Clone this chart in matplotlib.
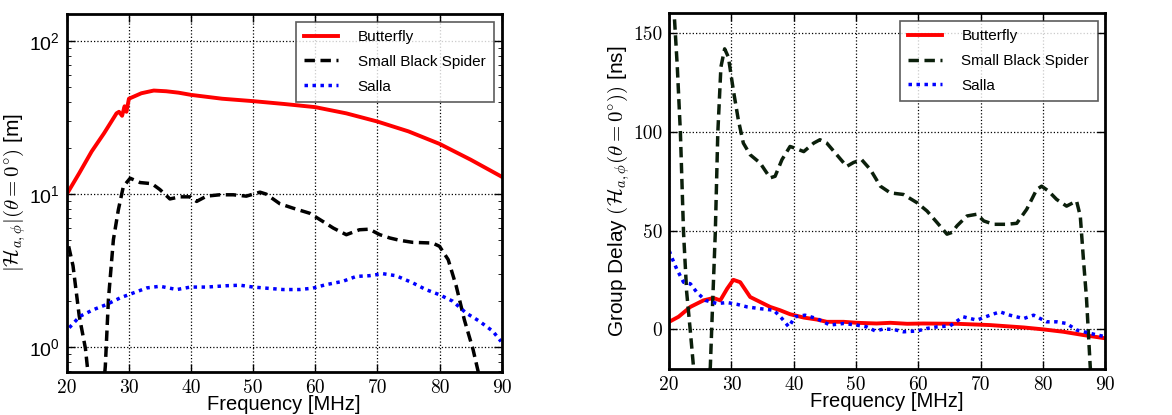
import matplotlib
matplotlib.use("Agg")
import matplotlib.pyplot as plt
from matplotlib.ticker import FuncFormatter, LogLocator, NullFormatter

plt.rcParams['mathtext.fontset'] = 'cm'
plt.rcParams['font.family'] = ['Liberation Sans', 'DejaVu Sans']

# ---- left panel: |H| (log scale) ----
bf_f = [20, 22, 24, 26, 28, 28.4, 28.9, 29.3, 29.6, 30, 32, 34, 36, 38, 40, 45, 50, 55, 60,
        65, 70, 75, 80, 85, 90]
bf_h = [10, 13.7, 19, 25, 33.7, 34.5, 32.5, 37.5, 34.5, 42, 45.6, 47.5, 47, 46, 44.5, 42, 40.5,
        38.8, 37, 33.7, 29.8, 25.7, 21.3, 16.8, 13]

sp_f = [20.3, 21, 22, 23, 23.3, 23.6, 26.0, 26.2, 26.7, 27.5, 28.3, 29.1, 30.2, 31.8, 33.7, 35,
        36.6, 38.2, 39.8, 40.9, 42.5, 44.6, 46.8, 48.9, 51.1, 52.1, 54.3, 56.4, 59.1, 61.3,
        62.9, 65, 67.1, 68.7, 70.4, 72, 73.6, 75.7, 78.9, 80, 81.4, 82.7, 84, 85.4, 86.2, 86.5]
sp_h = [4.56, 3.4, 1.6, 0.98, 0.75, 0.6, 0.6, 0.75, 2.05, 5.04, 7.9, 11.2, 12.7, 11.9, 11.7, 10.7,
        9.3, 9.6, 9.6, 8.96, 9.7, 9.9, 9.9, 9.7, 10.3, 10.0, 8.65, 8.1, 7.5, 6.6,
        6.0, 5.43, 5.85, 5.9, 5.43, 5.17, 4.99, 4.84, 4.79, 4.56, 3.73, 2.5, 1.51, 0.966, 0.7, 0.6]

sa_f = [20.4, 22.1, 24.3, 26.4, 28.6, 30.7, 32.9, 35, 37.7, 39.9, 42.5, 45.7, 47.9, 50, 52.1,
        54.8, 57.5, 59.6, 61.7, 64.4, 66.6, 68.7, 70.9, 73, 75.7, 77.8, 80, 82.1, 84.3, 86.4,
        88.6, 89.9]
sa_h = [1.34, 1.59, 1.76, 1.9, 2.1, 2.26, 2.44, 2.5, 2.38, 2.47, 2.47, 2.52, 2.54, 2.47, 2.43,
        2.38, 2.38, 2.43, 2.56, 2.69, 2.9, 2.93, 3.02, 2.93, 2.63, 2.38, 2.2, 2.0, 1.67, 1.48,
        1.27, 1.09]

# ---- right panel: group delay [ns] ----
bf_gf = [20, 21.5, 23.4, 25.5, 27.1, 28.2, 29.3, 30.3, 31.4, 33, 34.6, 36.2, 37.8, 39.4, 41.6,
         43.7, 45.3, 48, 50.1, 53.3, 55.5, 58.2, 60.8, 66.2, 71.5, 76.9, 80.1, 83.3, 86.5, 90]
bf_gd = [3.85, 6.4, 11.4, 14.7, 15.9, 14.7, 20.6, 25.1, 23.9, 16.4, 13.9, 11.4, 9.7, 7.7, 6.0,
         5.0, 3.85, 3.85, 3.35, 3.0, 3.35, 2.85, 3.0, 2.85, 2.2, 1.0, 0, -1.2, -2.85, -4.5]

sp_gf = [20.7, 21.3, 21.8, 22.3, 22.8, 23.4, 23.9, 24.1, 26.4, 26.6, 27.0, 27.4, 27.8, 28.3,
         28.9, 29.5, 30.3, 31.1, 31.9, 33, 34.6, 36.2, 37, 38.1, 39.4, 40.2, 41.6, 43.2, 44.2,
         45.3, 46.9, 48.5, 49.6, 50.9, 52.3, 53.9, 55.5, 57.6, 59.8, 61.4, 63, 64.6, 65.4, 66.2,
         67.8, 69.4, 70.5, 72.1, 74.2, 75.8, 77.4, 79, 79.8, 80.9, 82.2, 83.8, 85.4, 86, 86.5,
         87, 87.6, 87.8]
sp_gd = [165, 132.8, 99.3, 49, 19, -1.2, -19, -25, -25, -19, 15.6, 49, 99.3, 132.8,
         142, 137.8, 121, 106, 94.3, 88.4, 84.2, 76.7, 77.5, 85.9, 92.6, 91.7, 90, 94.3, 96,
         94.3, 88.4, 82.5, 84.5, 85.9, 80.9, 72.5, 69.1, 68.3, 64.1, 59.9, 54.1, 48.2, 49.1, 52.4,
         57.4, 58.3, 54.9, 53.2, 53.2, 53.7, 60.8, 70.8, 72.5, 70, 65.8, 62.4, 65, 57.4, 35.7,
         15.6, -19, -25]

sa_gf = [20, 20.4, 21.2, 22.3, 23.4, 24.4, 25.8, 27.7, 29.3, 30.9, 32.5, 34.6, 36.8, 38.1,
         39.2, 40.2, 41.8, 43.7, 45.8, 48, 50.1, 51.7, 53.1, 54.4, 56, 57.6, 59.8, 61.4, 63,
         65.1, 67.2, 69.4, 71.5, 73.1, 74.7, 76.9, 78.5, 80.6, 82.2, 83.8, 85.4, 87.6, 90]
sa_gd = [39.8, 36.5, 30.6, 23.9, 23.1, 18.9, 14.7, 13.1, 13.6, 12.7, 11.4, 10.5, 9.7, 5.5,
         1.3, 6.4, 7.2, 5.5, 2.2, 3.0, 2.2, 1.3, -0.8, 0.2, 0, -1.2, -0.8, 0.5, 1.3,
         1.8, 6.4, 4.7, 7.2, 8.9, 7.2, 5.5, 7.2, 3.85, 3.85, 3.0, -0.3, -2.0, -3.7]

labels = ["Butterfly", "Small Black Spider", "Salla"]
xticks = [20, 30, 40, 50, 60, 70, 80, 90]

fig = plt.figure(figsize=(11.72, 4.15), dpi=100)
ax1 = fig.add_axes([0.057, 0.104, 0.371, 0.862])
ax2 = fig.add_axes([0.571, 0.111, 0.372, 0.857])

plainfmt = FuncFormatter(lambda v, p: "%d" % v)
dash = (0, (3, 1.6))
dots = (0, (1, 1.3))

# left
ax1.plot(bf_f, bf_h, color='red', lw=2.8, label=labels[0])
ax1.plot(sp_f, sp_h, color='black', lw=2.5, ls=dash, label=labels[1])
ax1.plot(sa_f, sa_h, color='blue', lw=2.5, ls=dots, label=labels[2])
ax1.set_yscale('log')
ax1.set_xlim(20, 90)
ax1.set_ylim(0.69, 150)
ax1.yaxis.set_major_locator(LogLocator(base=10))
ax1.yaxis.set_minor_formatter(NullFormatter())
ax1.set_ylabel(r"$|\mathcal{H}_{a,\phi}|(\theta=0^{\circ})$ [m]", fontsize=15, labelpad=1)

# right
ax2.plot(bf_gf, bf_gd, color='red', lw=2.8, label=labels[0])
ax2.plot(sp_gf, sp_gd, color='#0b1f0b', lw=2.5, ls=dash, label=labels[1])
ax2.plot(sa_gf, sa_gd, color='blue', lw=2.5, ls=dots, label=labels[2])
ax2.set_xlim(20, 90)
ax2.set_ylim(-20, 160)
ax2.set_yticks([0, 50, 100, 150])
ax2.yaxis.set_major_formatter(plainfmt)
ax2.set_ylabel(r"Group Delay $(\mathcal{H}_{a,\phi}(\theta=0^{\circ}))$ [ns]", fontsize=15,
               labelpad=1)

for ax in (ax1, ax2):
    ax.set_xticks(xticks)
    ax.xaxis.set_major_formatter(plainfmt)
    ax.set_xlabel("Frequency [MHz]", fontsize=14.5, labelpad=-1)
    ax.tick_params(labelsize=14, direction='in', length=6, width=1, top=True, right=True, pad=5)
    ax.tick_params(which='minor', direction='in', length=3, top=True, right=True)
    for t in ax.get_xticklabels():
        t.set_fontfamily('cmr10')
    ax.grid(True, which='major', color='black', ls=':', lw=0.9)
    for s in ax.spines.values():
        s.set_linewidth(2)
    leg = ax.legend(loc='upper right', fontsize=11, handlelength=2.2, borderpad=0.55,
                    labelspacing=0.7, handletextpad=1.3, fancybox=False)
    leg.get_frame().set_edgecolor('#333333')
    leg.get_frame().set_linewidth(1.2)

for t in ax2.get_yticklabels():
    t.set_fontfamily('cmr10')

fig.savefig("out.png", dpi=100)
